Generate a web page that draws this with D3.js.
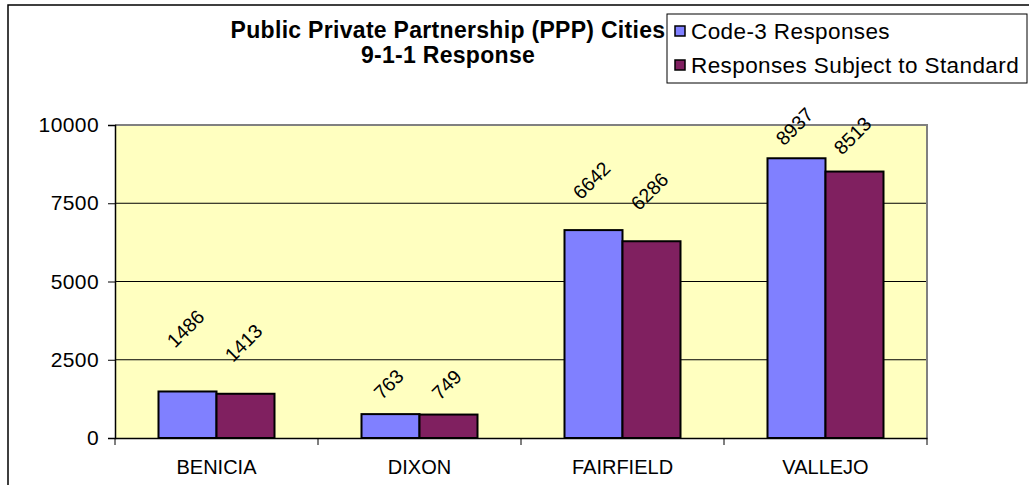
<!DOCTYPE html>
<html>
<head>
<meta charset="utf-8">
<script src="https://cdn.jsdelivr.net/npm/d3@7"></script>
<style>
  html, body { margin: 0; padding: 0; background: #ffffff; }
  svg { display: block; font-family: Arial, "Liberation Sans", sans-serif; }
</style>
</head>
<body>
<svg id="chart" width="1029" height="485"></svg>
<script>
// ---- data ----
const titleLines = ["Public Private Partnership (PPP) Cities", "9-1-1 Response"];
const categories = ["BENICIA", "DIXON", "FAIRFIELD", "VALLEJO"];
const seriesNames = ["Code-3 Responses", "Responses Subject to Standard"];
const code3 = [1486, 763, 6642, 8937];
const subjectToStandard = [1413, 749, 6286, 8513];
const yTicks = [0, 2500, 5000, 7500, 10000];

// ---- presentation ----
const colors = ["#8080FF", "#802060"];
// how far (px) each value label sits above its bar (as placed in the original)
const labelLift = [[63, 51], [30, 30], [50, 50], [32, 36]];

const svg = d3.select("#chart");
const plot = { left: 115, right: 927, top: 125, bottom: 438 };

// outer chart frame (extends past the window on right/bottom)
svg.append("rect")
  .attr("x", 8).attr("y", 5).attr("width", 1100).attr("height", 600)
  .attr("fill", "#ffffff").attr("stroke", "#000").attr("stroke-width", 1.5);

const x0 = d3.scaleBand().domain(categories).range([plot.left, plot.right]).paddingInner(0).paddingOuter(0);
const x1 = d3.scaleBand().domain(seriesNames).range([0, x0.bandwidth()]).paddingInner(0).paddingOuter(0.75);
const y = d3.scaleLinear().domain([0, 10000]).range([plot.bottom, plot.top]);

// plot area background
svg.append("rect")
  .attr("x", plot.left).attr("y", plot.top)
  .attr("width", plot.right - plot.left).attr("height", plot.bottom - plot.top)
  .attr("fill", "#FFFFC0");

// gridlines
svg.append("g").selectAll("line")
  .data(yTicks.filter(d => d > 0 && d < 10000))
  .join("line")
  .attr("x1", plot.left).attr("x2", plot.right)
  .attr("y1", d => y(d)).attr("y2", d => y(d))
  .attr("stroke", "#000").attr("stroke-width", 1);

// plot border top & right (gray)
svg.append("path")
  .attr("d", `M${plot.left},${plot.top}H${plot.right}V${plot.bottom}`)
  .attr("fill", "none").attr("stroke", "#808080").attr("stroke-width", 2);

// bars
const series = [code3, subjectToStandard];
const groups = svg.append("g").selectAll("g")
  .data(categories)
  .join("g")
  .attr("transform", d => `translate(${x0(d)},0)`);

groups.selectAll("rect")
  .data((c, i) => seriesNames.map((s, j) => ({ s, j, v: series[j][i] })))
  .join("rect")
  .attr("x", d => x1(d.s))
  .attr("y", d => y(d.v))
  .attr("width", x1.bandwidth())
  .attr("height", d => y(0) - y(d.v))
  .attr("fill", d => colors[d.j])
  .attr("stroke", "#000").attr("stroke-width", 2);

// value labels (rotated)
groups.selectAll("text")
  .data((c, i) => seriesNames.map((s, j) => ({ s, j, i, v: series[j][i] })))
  .join("text")
  .attr("transform", d => {
    const cx = x1(d.s) + x1.bandwidth() / 2 - 2;
    const cy = y(d.v) - labelLift[d.i][d.j];
    return `translate(${cx},${cy}) rotate(-45)`;
  })
  .attr("text-anchor", "middle")
  .attr("dominant-baseline", "central")
  .attr("font-size", 19.5)
  .attr("fill", "#000")
  .text(d => d.v);

// y axis
const yAxis = d3.axisLeft(y).tickValues(yTicks).tickSize(7).tickPadding(9).tickFormat(d3.format("d"));
const gy = svg.append("g").attr("transform", `translate(${plot.left},0)`).call(yAxis);
gy.select(".domain").attr("stroke", "#000").attr("stroke-width", 1.5);
gy.selectAll(".tick line").attr("stroke", "#000").attr("stroke-width", 1);
gy.selectAll(".tick text").attr("font-size", 21).attr("letter-spacing", "0.4px")
  .attr("font-family", "Arial, 'Liberation Sans', sans-serif").attr("fill", "#000");

// x axis
const xAxis = d3.axisBottom(x0).tickSize(0).tickPadding(22);
const gx = svg.append("g").attr("transform", `translate(0,${plot.bottom})`).call(xAxis);
gx.select(".domain").attr("stroke", "#000").attr("stroke-width", 1.5);
gx.selectAll(".tick text").attr("font-size", 20).attr("font-family", "Arial, 'Liberation Sans', sans-serif").attr("fill", "#000");
// category boundary tick marks
const boundaries = categories.map(c => x0(c)).concat([x0(categories[categories.length - 1]) + x0.bandwidth()]);
svg.append("g").selectAll("line")
  .data(boundaries)
  .join("line")
  .attr("x1", d => d).attr("x2", d => d)
  .attr("y1", plot.bottom).attr("y2", plot.bottom + 7)
  .attr("stroke", "#000").attr("stroke-width", 1);

// title
svg.append("g").selectAll("text")
  .data(titleLines)
  .join("text")
  .attr("x", 448)
  .attr("y", (d, i) => 38 + i * 25)
  .attr("text-anchor", "middle")
  .attr("font-weight", "bold")
  .attr("font-size", 23)
  .attr("letter-spacing", "0.3px")
  .attr("fill", "#000")
  .text(d => d);

// legend
const lg = svg.append("g");
lg.append("rect")
  .attr("x", 667).attr("y", 14).attr("width", 360).attr("height", 69)
  .attr("fill", "#fff").attr("stroke", "#000").attr("stroke-width", 1);
const li = lg.selectAll("g.item")
  .data(seriesNames)
  .join("g").attr("class", "item")
  .attr("transform", (d, i) => `translate(675,${31 + i * 34})`);
li.append("rect")
  .attr("x", 0).attr("y", -5).attr("width", 10).attr("height", 10)
  .attr("fill", (d, i) => colors[i]).attr("stroke", "#000").attr("stroke-width", 1.5);
li.append("text")
  .attr("x", 16).attr("y", 0)
  .attr("dominant-baseline", "central")
  .attr("font-size", 22.5)
  .attr("letter-spacing", "0.4px")
  .attr("fill", "#000")
  .text(d => d);
</script>
</body>
</html>
